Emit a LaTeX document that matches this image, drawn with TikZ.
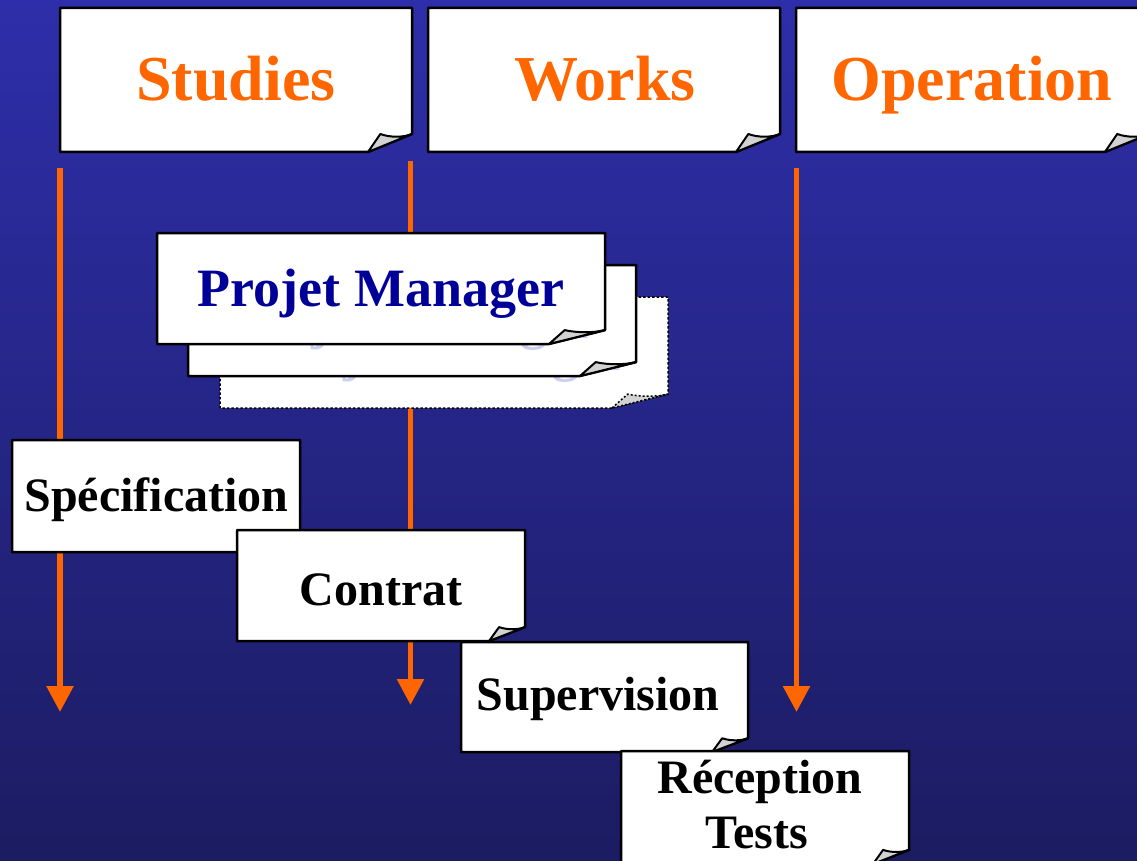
\documentclass[tikz,border=0pt]{standalone}
\usepackage{fontspec}
\setmainfont{Liberation Serif}
\usetikzlibrary{arrows.meta}
\definecolor{bgtop}{RGB}{46,46,170}
\definecolor{bgbot}{RGB}{28,28,98}
\definecolor{arrorange}{RGB}{255,102,0}
\definecolor{pmblue}{RGB}{0,0,153}
\definecolor{flapgray}{RGB}{210,210,210}
\definecolor{ghost}{RGB}{205,205,240}
\tikzset{
  notefill/.style={fill=white,draw=black,line width=2.5pt,line join=round},
  flapfill/.style={fill=flapgray,draw=black,line width=2pt,line join=round},
  dottedbox/.style={dotted,line width=1.5pt},
  flow/.style={draw=arrorange,line width=5.5pt,-{Triangle[length=26pt,width=26pt]}},
  hdrtext/.style={anchor=base,inner sep=0pt,text=arrorange,font=\bfseries\fontsize{64}{70}\selectfont},
  pmtext/.style={anchor=base,inner sep=0pt,text=pmblue,font=\bfseries\fontsize{54}{60}\selectfont},
  ghosttext/.style={anchor=base,inner sep=0pt,text=ghost,font=\bfseries\fontsize{54}{60}\selectfont},
  steptext/.style={anchor=base,inner sep=0pt,text=black,font=\bfseries\fontsize{48}{58}\selectfont},
}
% folded note: [extra style]{x0}{y0}{x1}{y1}
\newcommand{\notebox}[5][]{%
  \pgfmathsetmacro{\nbfx}{0.125*(#4-#2)}%
  \pgfmathsetmacro{\nbfy}{0.125*(#5-#3)}%
  \path[notefill,#1] (#2,#3) -- (#4,#3) -- (#4,#5-\nbfy) -- (#4-\nbfx,#5) -- (#2,#5) -- cycle;
  \path[flapfill,#1] (#4-\nbfx,#5) -- (#4-0.72*\nbfx,#5-\nbfy)
     .. controls (#4-0.5*\nbfx,#5-0.8*\nbfy) and (#4-0.2*\nbfx,#5-0.8*\nbfy) .. (#4,#5-\nbfy) -- cycle;
}
\begin{document}
\begin{tikzpicture}[x=1pt,y=-1pt]
\useasboundingbox (0,0) rectangle (1137,861);
\clip (0,0) rectangle (1137,861);
\fill[top color=bgtop,bottom color=bgbot] (0,0) rectangle (1137,861);

% arrows
\coordinate (a1s) at (60,168);  \coordinate (a1e) at (60,712);
\coordinate (a2s) at (410.5,161); \coordinate (a2e) at (410.5,705);
\coordinate (a3s) at (796.5,168); \coordinate (a3e) at (796.5,712);
\draw[flow] (a1s) -- (a1e);
\draw[flow] (a2s) -- (a2e);
\draw[flow] (a3s) -- (a3e);

% header boxes
\notebox{60}{8}{412}{152}
\node[hdrtext] (studies) at (236,101) {Studies};
\notebox{428}{8}{780}{152}
\node[hdrtext] (works) at (605,101) {Works};
\notebox{796}{8}{1149}{152}
\node[hdrtext] (operation) at (972,101) {Operation};

% project manager stack
\notebox[dottedbox]{220}{297}{668}{408}
\node[ghosttext] (pmback) at (444,370) {Projet Manager};
\notebox{188}{265}{636}{376}
\node[ghosttext] (pmmid) at (412,338) {Projet Manager};
\notebox{157}{233}{605}{344}
\node[pmtext] (pm) at (381,306) {Projet Manager};

% steps
\notebox{12}{440}{300}{552}
\node[steptext] (spec) at (156.5,511.5) {Spécification};
\notebox{237}{530}{525}{641}
\node[steptext] (contrat) at (381,605) {Contrat};
\notebox{461}{642}{748}{752}
\node[steptext] (superv) at (598,710) {Supervision};
\notebox{621}{751}{909}{864}
\node[steptext] (recep) at (760,793) {Réception};
\node[steptext] (tests) at (757,848) {Tests};
\end{tikzpicture}
\end{document}
